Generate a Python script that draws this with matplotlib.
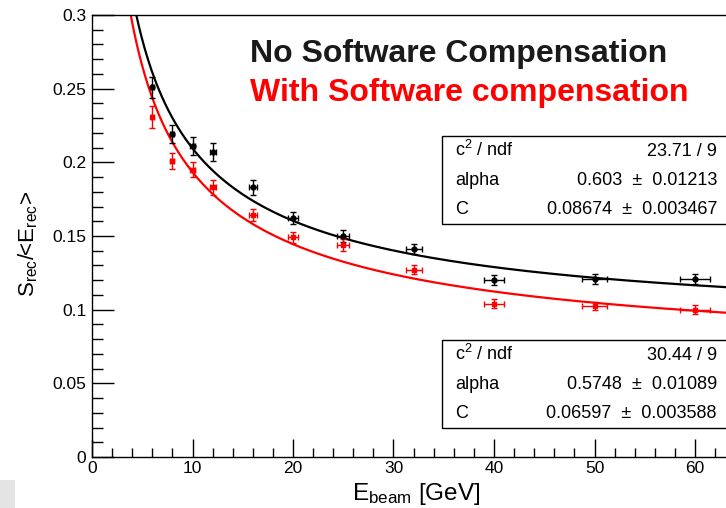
import numpy as np
import matplotlib
matplotlib.use("Agg")
import matplotlib.pyplot as plt
from matplotlib.patches import Rectangle

plt.rcParams["font.family"] = ["Liberation Sans", "DejaVu Sans"]
plt.rcParams["mathtext.default"] = "regular"

# beam energies (GeV) and horizontal errors
energy = [6, 8, 10, 12, 16, 20, 25, 32, 40, 50, 60]
energy_err = [0.15, 0.2, 0.25, 0.3, 0.4, 0.5, 0.6, 0.8, 1.0, 1.25, 1.5]

# resolution without software compensation
res_nosc = [0.251, 0.219, 0.211, 0.207, 0.183, 0.162, 0.150, 0.141, 0.120, 0.121, 0.121]
res_nosc_err = [0.007, 0.006, 0.006, 0.006, 0.005, 0.004, 0.004, 0.0035, 0.0035, 0.0035, 0.0035]

# resolution with software compensation
res_sc = [0.231, 0.201, 0.195, 0.183, 0.164, 0.149, 0.144, 0.127, 0.104, 0.1025, 0.100]
res_sc_err = [0.0075, 0.0055, 0.005, 0.005, 0.004, 0.004, 0.004, 0.003, 0.003, 0.003, 0.003]

# fit results: sigma/E = sqrt(alpha^2/E + C^2)
fit_nosc = {"chi2": "23.71 / 9", "alpha": 0.603, "alpha_err": "0.01213",
            "C": 0.08674, "C_err": "0.003467"}
fit_sc = {"chi2": "30.44 / 9", "alpha": 0.5748, "alpha_err": "0.01089",
          "C": 0.06597, "C_err": "0.003588"}

W, H = 726, 508
fig = plt.figure(figsize=(W / 100, H / 100), dpi=100)

# frame: x=0 at 92 px, 10.05 px per GeV, extends past the right edge
x0, y_top, y_bot = 92, 15, 457
xmax = 70
ax = fig.add_axes([x0 / W, (H - y_bot) / H, xmax * 10.05 / W, (y_bot - y_top) / H])
ax.set_xlim(0, xmax)
ax.set_ylim(0, 0.3)


def resolution(e, alpha, c):
    return np.sqrt(alpha ** 2 / e + c ** 2)


e_fine = np.linspace(3.0, xmax, 600)
ax.plot(e_fine, resolution(e_fine, fit_nosc["alpha"], fit_nosc["C"]), color="black", lw=1.6, zorder=2)
ax.plot(e_fine, resolution(e_fine, fit_sc["alpha"], fit_sc["C"]), color="#ff0000", lw=1.6, zorder=2)

ax.errorbar(energy, res_nosc, yerr=res_nosc_err, xerr=energy_err, fmt="o", color="black",
            ms=3.5, elinewidth=1.0, capsize=2, capthick=1.0, zorder=3)
ax.errorbar(energy, res_sc, yerr=res_sc_err, xerr=energy_err, fmt="s", color="#ff0000",
            ms=3.5, elinewidth=1.0, capsize=2, capthick=1.0, zorder=3)

ax.set_xticks(np.arange(0, 61, 10))
ax.set_xticks(np.arange(0, 71, 2), minor=True)
ax.set_yticks([0, 0.05, 0.1, 0.15, 0.2, 0.25, 0.3])
ax.set_yticklabels(["0", "0.05", "0.1", "0.15", "0.2", "0.25", "0.3"])
ax.set_yticks(np.arange(0, 0.301, 0.01), minor=True)
ax.tick_params(which="both", direction="in", labelsize=12.5, top=False, right=False)
ax.tick_params(axis="y", which="major", length=16, width=1.0, pad=4)
ax.tick_params(axis="y", which="minor", length=8, width=1.0)
ax.tick_params(axis="x", which="major", length=13, width=1.0, pad=3)
ax.tick_params(axis="x", which="minor", length=6.5, width=1.0)
for s in ax.spines.values():
    s.set_linewidth(1.0)

fig.text(352 / W, 1 - 500 / H, "E$_{beam}$ [GeV]", fontsize=17.5, va="baseline", ha="left")
fig.text(28 / W, 1 - 297 / H, "S$_{rec}$/<E$_{rec}$>", fontsize=16, rotation=90,
         va="bottom", ha="center")

fig.text(250 / W, 1 - 62 / H, "No Software Compensation", fontsize=23, fontweight="bold",
         color="#1a1a1a", va="baseline")
fig.text(250 / W, 1 - 101 / H, "With Software compensation", fontsize=23, fontweight="bold",
         color="#ff0000", va="baseline")


def stat_box(top, fit):
    bottom = top + 88
    fig.patches.append(Rectangle((442 / W, 1 - bottom / H), 300 / W, (bottom - top) / H,
                                 transform=fig.transFigure, fill=True, facecolor="white",
                                 edgecolor="black", lw=1.0, zorder=5))
    rows = [("c$^{2}$ / ndf", fit["chi2"]),
            ("alpha", f"{fit['alpha']}  \u00b1  {fit['alpha_err']}"),
            ("C", f"{fit['C']}  \u00b1  {fit['C_err']}")]
    for i, (name, val) in enumerate(rows):
        yb = top + 20 + i * 29
        fig.text(455 / W, 1 - yb / H, name, fontsize=13, va="baseline", zorder=6)
        fig.text(717 / W, 1 - yb / H, val, fontsize=13, va="baseline", ha="right", zorder=6)


stat_box(136, fit_nosc)
stat_box(340, fit_sc)

fig.patches.append(Rectangle((0, 0), 15 / W, 28 / H, transform=fig.transFigure,
                             facecolor="#e4e4e4", edgecolor="none"))

fig.savefig("out.png", dpi=100)
